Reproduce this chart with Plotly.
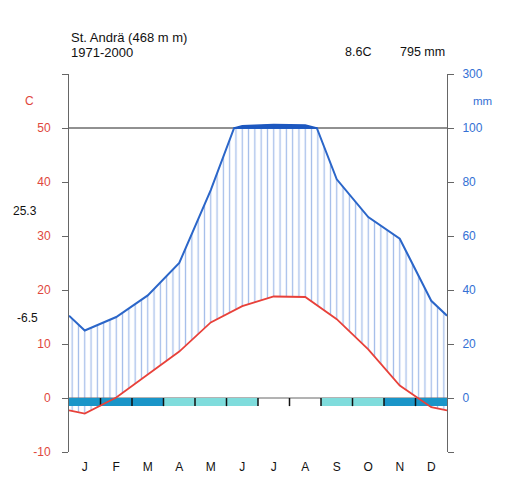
import numpy as np
import plotly.graph_objects as go

# ---------------- data ----------------
months = ["J", "F", "M", "A", "M", "J", "J", "A", "S", "O", "N", "D"]
temp = [-2.9, 0.1, 4.4, 8.6, 14.0, 17.0, 18.8, 18.7, 14.6, 9.0, 2.3, -1.7]   # °C
precip = [25, 30, 38, 50, 77, 108, 113, 111, 81, 67, 59, 36]                 # mm
frost = ["sure", "sure", "sure", "probable", "probable", "probable",
         "none", "none", "probable", "probable", "sure", "sure"]
left_ticks = [-10, 0, 10, 20, 30, 40, 50, 60]
left_labels = ["-10", "0", "10", "20", "30", "40", "50", ""]
right_labels = ["", "0", "20", "40", "60", "80", "100", "300"]
station = "St. Andrä (468 m m)"
period = "1971-2000"
mean_temp_txt = "8.6C"
total_prec_txt = "795 mm"
abs_max_txt = "25.3"
abs_min_txt = "-6.5"

# ---------------- styles ----------------
FONT = "Liberation Sans, Arial, Helvetica, sans-serif"
RED = "#e8413a"
RED_TXT = "#e0473c"
BLUE = "#2b66c9"
BLUE_TXT = "#3470d4"
DARK_BLUE = "#1d58c0"
HATCH = "rgba(50,105,205,0.9)"
SURE = "#1a95c8"
PROB = "#7fdcdc"
AXIS = "#666666"
FROST_H = 1.5

OFF = 8
FIG_W, FIG_H = 508 - OFF, 485 - OFF

# ---------------- derived geometry (from data) ----------------
xc = np.arange(12) + 0.5
x_ext = np.concatenate([[0.0], xc, [12.0]])
t_ext = np.array([(temp[0] + temp[-1]) / 2] + temp + [(temp[0] + temp[-1]) / 2])
p_ext = np.array([(precip[0] + precip[-1]) / 2] + precip + [(precip[0] + precip[-1]) / 2], float)

px, pv = [x_ext[0]], [p_ext[0]]
for i in range(1, len(x_ext)):
    a, b = p_ext[i - 1], p_ext[i]
    if (a - 100) * (b - 100) < 0:
        f = (100 - a) / (b - a)
        px.append(x_ext[i - 1] + f * (x_ext[i] - x_ext[i - 1]))
        pv.append(100.0)
    px.append(x_ext[i])
    pv.append(p_ext[i])
px = np.array(px)
pv = np.array(pv)
p_clip = np.minimum(pv, 100) / 2.0

mask = pv >= 100
bx = px[mask]
by = 50 + (pv[mask] - 100) / 20.0

fig = go.Figure()

fig.add_trace(go.Scatter(x=x_ext, y=t_ext, mode="lines", line=dict(width=0),
                         hoverinfo="skip", showlegend=False))
fig.add_trace(go.Scatter(x=px, y=p_clip, mode="lines", line=dict(color=BLUE, width=2),
                         fill="tonexty", fillcolor="rgba(0,0,0,0)",
                         fillpattern=dict(shape="|", size=6.3, solidity=0.2,
                                          fgcolor=HATCH, bgcolor="rgba(0,0,0,0)"),
                         hoverinfo="skip", showlegend=False))

for kind, col in (("sure", SURE), ("probable", PROB)):
    bxs, bys = [], []
    for i, f in enumerate(frost):
        if f == kind:
            bxs += [i, i + 1, i + 1, i, i, None]
            bys += [0, 0, -FROST_H, -FROST_H, 0, None]
    fig.add_trace(go.Scatter(x=bxs, y=bys, mode="lines", fill="toself", fillcolor=col,
                             line=dict(width=0), hoverinfo="skip", showlegend=False))
sx, sy = [], []
for i in range(1, 12):
    sx += [i, i, None]
    sy += [0, -FROST_H, None]
fig.add_trace(go.Scatter(x=sx, y=sy, mode="lines", line=dict(color="#111111", width=1.5),
                         hoverinfo="skip", showlegend=False))

fig.add_trace(go.Scatter(x=np.concatenate([bx, bx[::-1]]),
                         y=np.concatenate([by, np.full(len(bx), 50.0)]),
                         mode="lines", fill="toself", fillcolor=DARK_BLUE,
                         line=dict(color=DARK_BLUE, width=1.5),
                         hoverinfo="skip", showlegend=False))

fig.add_trace(go.Scatter(x=x_ext, y=t_ext, mode="lines", line=dict(color=RED, width=1.8),
                         hoverinfo="skip", showlegend=False))

fig.add_trace(go.Scatter(x=[None], y=[None], yaxis="y2", showlegend=False, hoverinfo="skip"))

fig.add_shape(type="line", xref="x", yref="y", x0=0, x1=12, y0=50, y1=50,
              line=dict(color="#222222", width=1), layer="below")
fig.add_shape(type="line", xref="x", yref="y", x0=0, x1=12, y0=0, y1=0,
              line=dict(color=AXIS, width=1), layer="below")

ann = []
def txt(x, y, s, color="#111111", size=12.5, xanchor="left"):
    ann.append(dict(x=x, y=y, xref="paper", yref="paper", text=s, showarrow=False,
                    xanchor=xanchor, yanchor="middle",
                    font=dict(family=FONT, size=size, color=color)))

L, T, W, H = 69, 74, 378, 378
def pxp(x): return (x - L) / W
def pyp(y): return (T + H - y) / H

txt(pxp(69), pyp(38), station, size=13)
txt(pxp(69), pyp(52), period, size=13)
txt(pxp(373), pyp(52), mean_temp_txt, xanchor="right")
txt(pxp(447), pyp(52), total_prec_txt, xanchor="right")
txt(pxp(29), pyp(101), "C", color=RED_TXT, size=12, xanchor="center")
txt(pxp(482), pyp(101), "mm", color=BLUE_TXT, size=11.5, xanchor="center")
txt(pxp(25), pyp(211), abs_max_txt, size=12, xanchor="center")
txt(pxp(27), pyp(318), abs_min_txt, size=12, xanchor="center")

fig.update_layout(
    width=FIG_W, height=FIG_H,
    margin=dict(l=L - OFF, r=FIG_W - (L - OFF) - W, t=T - OFF, b=FIG_H - (T - OFF) - H),
    paper_bgcolor="white", plot_bgcolor="white",
    showlegend=False,
    annotations=ann,
    xaxis=dict(range=[0, 12], tickvals=list(xc), ticktext=months, ticks="",
               showline=False, showgrid=False, zeroline=False, automargin=False,
               tickfont=dict(family=FONT, size=12, color="#111111"),
               ticklabelstandoff=6, fixedrange=True),
    yaxis=dict(range=[-10, 60], tickvals=left_ticks, ticktext=left_labels,
               ticks="outside", ticklen=6, tickcolor=AXIS, tickwidth=1,
               showline=True, linecolor=AXIS, linewidth=1, automargin=False,
               showgrid=False, zeroline=False,
               tickfont=dict(family=FONT, size=12, color=RED_TXT),
               ticklabelstandoff=9),
    yaxis2=dict(range=[-10, 60], tickvals=left_ticks, ticktext=right_labels,
                overlaying="y", side="right", anchor="x", automargin=False,
                ticks="outside", ticklen=6, tickcolor=AXIS, tickwidth=1,
                showline=True, linecolor=AXIS, linewidth=1,
                showgrid=False, zeroline=False,
                tickfont=dict(family=FONT, size=12, color=BLUE_TXT),
                ticklabelstandoff=6),
)

fig.write_html("out.html")
